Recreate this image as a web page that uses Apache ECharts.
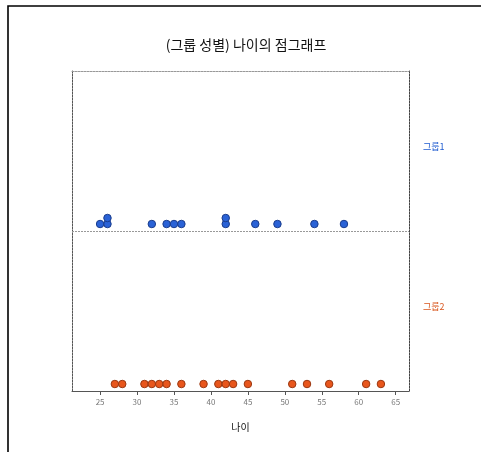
<!DOCTYPE html>
<html>
<head>
<meta charset="utf-8">
<script src="https://cdn.jsdelivr.net/npm/echarts@6/dist/echarts.min.js"></script>
<style>
html,body{margin:0;padding:0;background:#fff;}
#c{width:481px;height:452px;}
</style>
</head>
<body>
<div id="c"></div>
<script>
const titleText = '(그룹 성별) 나이의 점그래프';
const xTitle = '나이';
const groups = ['그룹2', '그룹1'];
const group1Ages = [25, 26, 26, 32, 34, 35, 36, 42, 42, 46, 49, 54, 58];
const group2Ages = [27, 28, 31, 32, 33, 34, 36, 39, 41, 42, 43, 45, 51, 53, 56, 61, 63];
const xTicks = [25, 30, 35, 40, 45, 50, 55, 60, 65];

const FONT = '"Noto Sans CJK KR", "Noto Sans", sans-serif';
const panelPx = 160;

function stackPoints(ages, panel) {
  const counts = {};
  return ages.map(a => {
    const k = counts[a] || 0;
    counts[a] = k + 1;
    return [a, panel + (7 + 6 * k) / panelPx];
  });
}

const chart = echarts.init(document.getElementById('c'), null, {renderer: 'canvas'});
chart.setOption({
  backgroundColor: '#ffffff',
  animation: false,
  title: {
    text: titleText,
    left: 241, top: 33, textAlign: 'center',
    textStyle: {fontFamily: FONT, fontSize: 14, fontWeight: 'normal', color: '#111'}
  },
  graphic: [{
    type: 'rect', silent: true,
    shape: {x: 8, y: 6, width: 700, height: 700},
    style: {fill: 'none', stroke: '#000', lineWidth: 1.6}
  }],
  grid: {left: 72, right: 72, top: 71, bottom: 61},
  xAxis: [{
    type: 'value', min: 21.2, max: 66.8, position: 'bottom',
    name: xTitle, nameLocation: 'middle', nameGap: 31,
    nameTextStyle: {fontFamily: FONT, fontSize: 10, color: '#111'},
    axisLine: {show: true, lineStyle: {color: '#555', width: 1}},
    axisTick: {show: true, length: 4, lineStyle: {color: '#555'}, customValues: xTicks},
    axisLabel: {fontFamily: FONT, fontSize: 8, color: '#777', margin: 7, customValues: xTicks},
    splitLine: {show: false}
  }, {
    type: 'value', min: 21.2, max: 66.8, position: 'top',
    axisLine: {show: true, lineStyle: {color: '#999', type: [2, 1], width: 1}},
    axisTick: {show: false}, axisLabel: {show: false}, splitLine: {show: false}
  }],
  yAxis: [{
    type: 'value', min: 0, max: 2, position: 'left',
    axisLine: {show: true, lineStyle: {color: '#555', type: [2, 1], width: 1}},
    axisTick: {show: false}, axisLabel: {show: false}, splitLine: {show: false}
  }, {
    type: 'category', data: groups, position: 'right',
    axisLine: {show: true, lineStyle: {color: '#444', type: [2, 1], width: 1}},
    axisTick: {show: false},
    axisLabel: {
      margin: 14, fontFamily: FONT, fontSize: 9, verticalAlign: 'bottom', lineHeight: 9,
      formatter: v => v === '그룹1' ? '{a|' + v + '}' : '{b|' + v + '}',
      rich: {
        a: {color: '#1f5bd0', fontFamily: FONT, fontSize: 9, lineHeight: 9},
        b: {color: '#d9561e', fontFamily: FONT, fontSize: 9, lineHeight: 9}
      }
    },
    splitLine: {show: false}
  }],
  series: [{
    type: 'scatter', name: groups[1], xAxisIndex: 0, yAxisIndex: 0,
    data: stackPoints(group1Ages, 1),
    symbol: 'circle', symbolSize: 7.5,
    itemStyle: {color: '#2a62d6', borderColor: '#1b3d8c', borderWidth: 1, opacity: 1},
    markLine: {
      silent: true, symbol: 'none', label: {show: false},
      lineStyle: {color: '#999', type: [2, 1], width: 1},
      data: [{yAxis: 1}]
    }
  }, {
    type: 'scatter', name: groups[0], xAxisIndex: 0, yAxisIndex: 0,
    data: stackPoints(group2Ages, 0),
    symbol: 'circle', symbolSize: 7.5,
    itemStyle: {color: '#e8561c', borderColor: '#9a3812', borderWidth: 1, opacity: 1}
  }]
});
</script>
</body>
</html>
